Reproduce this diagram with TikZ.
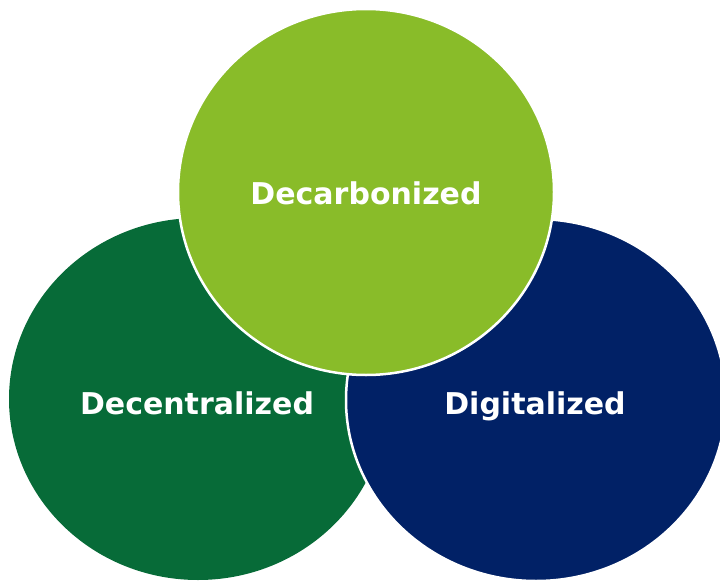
\documentclass[tikz,border=0pt]{standalone}
\usepackage{fontspec}
\newfontfamily\labelfont{DejaVu Sans}
\definecolor{lgreen}{RGB}{137,188,41}
\definecolor{dgreen}{RGB}{7,107,56}
\definecolor{navy}{RGB}{1,33,102}
\begin{document}
\begin{tikzpicture}[x=1pt,y=-1pt,
  blob/.style={draw=white,line width=2.5pt},
  lbl/.style={text=white,font=\labelfont\bfseries\fontsize{30}{32}\selectfont,inner sep=0pt,anchor=base}]
\useasboundingbox (0,0) rectangle (720,581);
\fill[dgreen] (198,399) ellipse [x radius=189,y radius=181];
\filldraw[navy,blob] (536,400) ellipse [x radius=190,y radius=181];
\filldraw[lgreen,blob] (366,192) ellipse [x radius=188,y radius=183];
\node[lbl] (top) at (366,204) {Decarbonized};
\node[lbl] (left) at (197,414) {Decentralized};
\node[lbl] (right) at (535,414) {Digitalized};
\end{tikzpicture}
\end{document}
